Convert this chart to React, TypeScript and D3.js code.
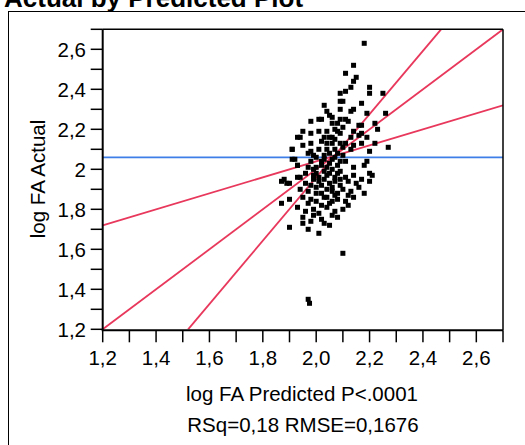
import React from "react";
import * as d3 from "d3";

// tick values and labels
const xTickValues = [1.2, 1.3, 1.4, 1.5, 1.6, 1.7, 1.8, 1.9, 2.0, 2.1, 2.2, 2.3, 2.4, 2.5, 2.6, 2.7];
const xTickLabels = ["1,2", "1,4", "1,6", "1,8", "2,0", "2,2", "2,4", "2,6"];
const xLabelValues = [1.2, 1.4, 1.6, 1.8, 2.0, 2.2, 2.4, 2.6];
const yTickValues = [1.2, 1.3, 1.4, 1.5, 1.6, 1.7, 1.8, 1.9, 2.0, 2.1, 2.2, 2.3, 2.4, 2.5, 2.6, 2.7];
const yTickLabels = ["1,2", "1,4", "1,6", "1,8", "2", "2,2", "2,4", "2,6"];
const yLabelValues = [1.2, 1.4, 1.6, 1.8, 2.0, 2.2, 2.4, 2.6];

// mean of actual (blue) and the fit line with its confidence lines (red)
const meanActual = 2.06;
const fitLines: [number, number, number, number][] = [
    [1.2, 1.2, 2.7, 2.7],
    [1.2, 1.72, 2.7, 2.32],
    [1.52, 1.2, 2.468, 2.7],
];

// [predicted, actual]
const points: [number, number][] = [
    [2.18, 2.63], [2.14, 2.52], [2.11, 2.48], [2.15, 2.46], [2.14, 2.44], [2.13, 2.41],
    [2.2, 2.41], [2.2, 2.38], [2.25, 2.38], [2.11, 2.39], [2.09, 2.38], [2.09, 2.34],
    [2.1, 2.34], [2.17, 2.33], [2.03, 2.32], [2.09, 2.3], [2.13, 2.29], [2.14, 2.3],
    [2.19, 2.28], [2.26, 2.28], [2.04, 2.29], [2.05, 2.27], [2.06, 2.26], [2.02, 2.25],
    [2.01, 2.25], [1.98, 2.24], [2.09, 2.25], [2.11, 2.25], [2.12, 2.24], [2.08, 2.23],
    [2.06, 2.23], [2.22, 2.23], [2.16, 2.22], [2.17, 2.22], [2.23, 2.2], [1.95, 2.19],
    [1.98, 2.18], [2.07, 2.2], [2.08, 2.19], [2.14, 2.19], [2.09, 2.18], [2.17, 2.18],
    [1.94, 2.16], [2.03, 2.16], [2.05, 2.16], [2.06, 2.16], [2.07, 2.15], [2.13, 2.16],
    [2.16, 2.17], [2.19, 2.16], [1.95, 2.12], [1.98, 2.13], [2.02, 2.14], [2.04, 2.13],
    [2.06, 2.13], [2.09, 2.13], [2.11, 2.13], [2.14, 2.12], [2.17, 2.13], [2.22, 2.13],
    [2.2, 2.09], [1.91, 2.1], [1.98, 2.09], [2.01, 2.1], [2.04, 2.1], [2.07, 2.1],
    [2.1, 2.11], [2.13, 2.1], [2.27, 2.11], [1.99, 2.07], [2.03, 2.07], [2.07, 2.06],
    [2.1, 2.07], [1.92, 2.05], [1.98, 2.04], [2.02, 2.04], [2.05, 2.03], [2.09, 2.04],
    [2.11, 2.04], [2.19, 2.04], [1.93, 2.02], [1.97, 2.01], [2.0, 2.01], [2.04, 2.01],
    [2.08, 2.02], [2.14, 2.01], [2.18, 2.02], [1.94, 1.96], [1.99, 1.97], [2.01, 1.96],
    [2.05, 1.98], [2.08, 1.98], [2.11, 1.96], [2.14, 1.97], [2.2, 1.98], [2.21, 1.97],
    [1.88, 1.95], [1.93, 2.16], [1.91, 2.1], [1.91, 2.05], [1.93, 2.02], [1.93, 1.96],
    [1.87, 1.94], [1.89, 1.93], [1.9, 1.93], [1.87, 1.83], [1.9, 1.85], [1.9, 1.71],
    [1.96, 1.93], [1.99, 1.95], [2.01, 1.94], [2.03, 1.95], [2.05, 1.93], [2.07, 1.94],
    [2.09, 1.92], [2.12, 1.94], [2.15, 1.93], [2.17, 1.95], [2.2, 1.94], [1.94, 1.9],
    [1.97, 1.89], [2.0, 1.91], [2.02, 1.88], [2.04, 1.9], [2.06, 1.89], [2.08, 1.88],
    [2.1, 1.9], [2.13, 1.89], [2.16, 1.91], [2.18, 1.88], [1.95, 1.86], [1.98, 1.85],
    [2.0, 1.84], [2.03, 1.86], [2.05, 1.83], [2.08, 1.85], [2.11, 1.84], [2.14, 1.86],
    [1.93, 1.81], [1.96, 1.79], [1.99, 1.8], [2.01, 1.78], [2.04, 1.81], [2.07, 1.79],
    [2.1, 1.8], [1.95, 1.76], [1.98, 1.74], [2.02, 1.75], [2.06, 1.77], [1.97, 1.7],
    [2.01, 1.68], [2.05, 1.72], [2.1, 1.58], [1.97, 1.35], [1.975, 1.33],
    [1.97, 2.08], [2.0, 2.06], [2.03, 2.05], [2.05, 2.08], [2.08, 2.08], [2.06, 2.05],
    [2.02, 2.02], [1.99, 2.0], [2.03, 1.99], [2.06, 2.0], [2.09, 1.99], [2.0, 1.98],
    [1.96, 1.98], [2.04, 1.97], [2.07, 1.96], [2.02, 1.92], [2.06, 1.91], [2.09, 1.95],
    [1.98, 1.92], [2.0, 1.88], [2.04, 1.86], [2.07, 1.87], [2.12, 1.87], [1.97, 1.83],
    [2.02, 1.82], [2.06, 1.84], [1.99, 1.77], [2.03, 1.73], [2.08, 1.76], [2.12, 1.82],
    [1.95, 1.73], [2.04, 2.19], [2.01, 2.19], [2.1, 2.21],
];

const font = "'Liberation Sans', Arial, sans-serif";

export default function App() {
    const left = 102.7;
    const right = 503;
    const top = 29.3;
    const bottom = 329.3;

    const x = d3.scaleLinear().domain([1.2, 2.7]).range([left, right]);
    const y = d3.scaleLinear().domain([1.2, 2.7]).range([bottom, top]);
    const size = 5;

    return (
        <svg
            width={525}
            height={445}
            style={{ position: "absolute", left: 0, top: 0, background: "#fff" }}
            fontFamily={font}
        >
            <defs>
                <clipPath id="plotClip">
                    <rect x={left} y={top} width={right - left} height={bottom - top} />
                </clipPath>
            </defs>

            <text x={4} y={7} fontSize={26} fontWeight="bold">
                Actual by Predicted Plot
            </text>
            <rect x={8.5} y={11.5} width={600} height={600} fill="none" stroke="#000" strokeWidth={1} />

            <g clipPath="url(#plotClip)">
                <line
                    x1={left}
                    x2={right}
                    y1={y(meanActual)}
                    y2={y(meanActual)}
                    stroke="#3d7ee8"
                    strokeWidth={1.8}
                />
                {fitLines.map((l, i) => (
                    <line
                        key={i}
                        x1={x(l[0])}
                        y1={y(l[1])}
                        x2={x(l[2])}
                        y2={y(l[3])}
                        stroke="#e8385c"
                        strokeWidth={1.8}
                    />
                ))}
                {points.map((p, i) => (
                    <rect
                        key={i}
                        x={x(p[0]) - size / 2}
                        y={y(p[1]) - size / 2}
                        width={size}
                        height={size}
                        fill="#000"
                    />
                ))}
            </g>

            {/* frame */}
            <line x1={left} x2={right} y1={top} y2={top} stroke="#000" strokeWidth={1.5} />
            <line x1={right} x2={right} y1={top} y2={bottom + 1} stroke="#000" strokeWidth={1.5} />
            <line x1={left} x2={left} y1={top} y2={bottom + 1} stroke="#000" strokeWidth={2} />
            <line x1={left - 1} x2={right} y1={bottom + 1} y2={bottom + 1} stroke="#000" strokeWidth={2} />

            {/* y axis */}
            {yTickValues.map((v) => (
                <line key={v} x1={left - 12} x2={left} y1={y(v)} y2={y(v)} stroke="#000" strokeWidth={1.5} />
            ))}
            {yLabelValues.map((v, i) => (
                <text key={v} x={86} y={y(v) + 7.3} fontSize={20.5} textAnchor="end">
                    {yTickLabels[i]}
                </text>
            ))}

            {/* x axis */}
            {xTickValues.map((v) => (
                <line key={v} x1={x(v)} x2={x(v)} y1={bottom + 1} y2={bottom + 13} stroke="#000" strokeWidth={1.5} />
            ))}
            {xLabelValues.map((v, i) => (
                <text key={v} x={x(v)} y={365} fontSize={20.5} textAnchor="middle">
                    {xTickLabels[i]}
                </text>
            ))}

            <text x={302} y={401} fontSize={20.5} textAnchor="middle">
                log FA Predicted P&lt;.0001
            </text>
            <text x={303} y={432} fontSize={20.5} textAnchor="middle">
                RSq=0,18 RMSE=0,1676
            </text>
            <text transform="translate(45,179) rotate(-90)" fontSize={20.5} textAnchor="middle">
                log FA Actual
            </text>
        </svg>
    );
}
